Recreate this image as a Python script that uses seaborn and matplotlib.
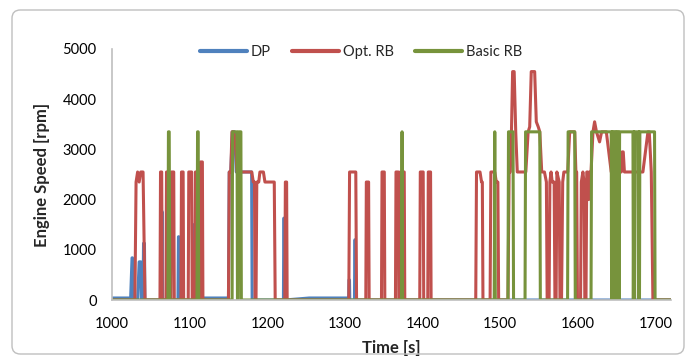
import numpy as np
import pandas as pd
import matplotlib
matplotlib.use("Agg")
import matplotlib.pyplot as plt
import seaborn as sns
from matplotlib.patches import FancyBboxPatch

# ---------------- data ----------------
# DP (blue)
dp_time = [1000, 1024, 1025.8, 1026.4, 1027.6, 1028.2, 1033, 1035, 1035.5, 1037.2, 1037.8, 1040,
           1040.6, 1041.8, 1042.4, 1063.5, 1064.1, 1064.6, 1065.1, 1085, 1085.6, 1086.2, 1086.8,
           1104, 1104.5, 1105.1, 1105.6, 1113, 1148, 1150, 1151, 1153, 1155, 1158, 1160,
           1179.8, 1180.5,
           1220.8, 1221.3, 1222.0, 1222.5, 1254, 1304, 1304.8, 1305.2, 1305.9, 1306.3,
           1312.3, 1312.8, 1313.4, 1313.9, 1320, 1720]
dp_speed = [40, 40, 840, 840, 0, 0, 0, 760, 760, 760, 0, 0,
            1130, 1130, 0, 0, 1760, 1760, 0, 0, 1260, 1260, 0,
            0, 1500, 1500, 0, 40, 40, 0, 2550, 2550, 3350, 3350, 2550,
            2550, 0,
            0, 1630, 1630, 0, 40, 40, 0, 400, 400, 0,
            0, 1200, 1200, 0, 0, 0]

# Opt. RB (red)
opt_time = [1000, 1029.5, 1031, 1033, 1035, 1037, 1040, 1042.5,
            1061.8, 1062.5, 1064.0, 1064.7,
            1069.5, 1070.2, 1071.0, 1071.7,
            1075.9, 1076.6, 1079.5, 1080.2,
            1088.8, 1089.5, 1091.6, 1092.3,
            1098.2, 1098.9, 1102.6, 1103.3,
            1106.8, 1107.5, 1111.3, 1112.0,
            1113.3, 1114.0, 1116.4, 1117.1,
            1150, 1151, 1153, 1154.5, 1157, 1159, 1161, 1180, 1182, 1183.5, 1184.3, 1185.5,
            1186.5, 1189, 1190.5, 1195, 1197, 1209, 1210.2,
            1222.6, 1223.3, 1224.9, 1225.6,
            1305, 1306, 1314, 1315,
            1326.9, 1327.6, 1330.5, 1331.2,
            1347.1, 1347.8, 1350.7, 1351.4,
            1365.1, 1365.8, 1368.7, 1369.4,
            1370.7, 1371.4, 1376.4, 1377.1,
            1396.4, 1397.1, 1400.8, 1401.5,
            1406.7, 1407.4, 1410.3, 1411.0,
            1468.5, 1469.5, 1474, 1476, 1477, 1477.8,
            1487, 1488, 1493, 1495, 1497, 1498,
            1510, 1511.5, 1513, 1514.5, 1516, 1518, 1520, 1522, 1533, 1536, 1538, 1540, 1544.4,
            1546.5, 1549, 1551, 1553.5, 1557, 1559.5, 1560.5,
            1563, 1564, 1565.5, 1567, 1569.5, 1570.5,
            1572, 1573, 1576, 1577,
            1579, 1580.5, 1582, 1587, 1589.5, 1596, 1597.5, 1598.5, 1599.5,
            1603.5, 1604.5, 1606.5, 1608, 1609,
            1610.5, 1611.5, 1613, 1614, 1615.5, 1617, 1619.5, 1621.6, 1624, 1628, 1630.6,
            1636.7, 1643, 1656, 1657, 1658.5, 1660, 1683.8, 1690.3, 1692, 1694.6, 1696.7, 1720]
opt_speed = [0, 0, 2350, 2550, 2350, 2550, 2550, 0,
             0, 2550, 2550, 0,
             0, 2550, 2550, 0,
             0, 2550, 2550, 0,
             0, 2550, 2550, 0,
             0, 2550, 2550, 0,
             0, 2550, 2550, 0,
             0, 2750, 2750, 0,
             0, 2550, 2550, 3350, 3350, 3100, 2550, 2550, 2350, 2350, 0, 0,
             2350, 2350, 2550, 2550, 2350, 2350, 0,
             0, 2350, 2350, 0,
             0, 2550, 2550, 0,
             0, 2350, 2350, 0,
             0, 2550, 2550, 0,
             0, 2550, 2550, 0,
             0, 2550, 2550, 0,
             0, 2550, 2550, 0,
             0, 2550, 2550, 0,
             0, 2550, 2550, 2350, 2350, 0,
             0, 2550, 2550, 2350, 2350, 0,
             0, 2550, 2550, 3350, 4550, 4550, 3350, 2550, 2550, 3350, 3450, 4550, 4550,
             3550, 3450, 3350, 2550, 2550, 2350, 0,
             0, 2350, 2550, 2350, 2350, 0,
             0, 2550, 2350, 0,
             0, 2350, 2550, 2550, 3350, 3350, 2550, 2550, 0,
             0, 2350, 2550, 2350, 0,
             0, 2550, 2550, 2000, 2550, 2550, 3350, 3550, 3350, 3150, 3350,
             3350, 2550, 2550, 2950, 2950, 2550, 2550, 3350, 3350, 2550, 0, 0]

# Basic RB (green)
basic_time = [1000, 1072, 1072.7, 1073.7, 1074.4,
              1109.5, 1110.2, 1111.0, 1111.7,
              1154.7, 1155.3, 1161, 1161.6, 1162.5, 1163.1, 1166, 1166.6,
              1372.9, 1373.6, 1374.3,
              1492.3, 1493.0, 1493.7,
              1510, 1510.7, 1516.5, 1517.2,
              1532, 1532.7, 1551, 1551.7,
              1586.8, 1587.5, 1596, 1596.7,
              1617, 1617.7, 1643, 1643.5, 1644.3, 1645, 1645.8, 1646.6, 1647.4, 1648.2, 1649,
              1649.8, 1650.6, 1651.4, 1652.2, 1653, 1653.8,
              1671, 1671.5, 1672.3, 1673, 1673.7,
              1677.6, 1678.1, 1678.9, 1679.4, 1679.9,
              1698.8, 1699.5, 1720]
basic_speed = [0, 0, 3350, 3350, 0,
               0, 3350, 3350, 0,
               0, 3350, 3350, 0, 0, 3350, 3350, 0,
               0, 3350, 0,
               0, 3350, 0,
               0, 3350, 3350, 0,
               0, 3350, 3350, 0,
               0, 3350, 3350, 0,
               0, 3350, 3350, 0, 3350, 0, 3350, 0, 3350, 0, 3350,
               0, 3350, 0, 3350, 0, 3350,
               3350, 0, 3350, 0, 3350,
               3350, 0, 3350, 0, 3350,
               3350, 0, 0]

x_ticks = [1000, 1100, 1200, 1300, 1400, 1500, 1600, 1700]
y_ticks = [0, 1000, 2000, 3000, 4000, 5000]

# ---------------- plot ----------------
sns.set_style("white")
plt.rcParams["font.family"] = ["Lato", "DejaVu Sans"]

fig = plt.figure(figsize=(6.94, 3.6), dpi=100)
ax = fig.add_axes([112/694, 1-300/360, (671-112)/694, (300-49)/360])

c_dp, c_opt, c_basic = "#4F81BD", "#C0504D", "#77933C"
sns.lineplot(x=dp_time, y=dp_speed, sort=False, estimator=None, ax=ax,
             color=c_dp, lw=2.2, label="DP", solid_joinstyle="round")
sns.lineplot(x=opt_time, y=opt_speed, sort=False, estimator=None, ax=ax,
             color=c_opt, lw=2.2, label="Opt. RB", solid_joinstyle="round")
sns.lineplot(x=basic_time, y=basic_speed, sort=False, estimator=None, ax=ax,
             color=c_basic, lw=2.2, label="Basic RB", solid_joinstyle="round")

ax.set_xlim(1000, 1720)
ax.set_ylim(0, 5000)
ax.set_xticks(x_ticks)
ax.set_yticks(y_ticks)
ax.tick_params(axis="both", length=0, labelsize=10.5, colors="#000000")
ax.tick_params(axis="x", pad=12)
ax.tick_params(axis="y", pad=11)
for s in ["top", "right"]:
    ax.spines[s].set_visible(False)
for s in ["left", "bottom"]:
    ax.spines[s].set_color("#BFBFBF")
    ax.spines[s].set_linewidth(1.2)

ax.set_xlabel("Time [s]", fontsize=12, fontweight="bold", labelpad=7)
ax.set_ylabel("Engine Speed [rpm]", fontsize=12, fontweight="bold", labelpad=9)

leg = ax.legend(loc="center", bbox_to_anchor=(361/694, 1-52/360), bbox_transform=fig.transFigure,
                ncol=3, frameon=False, fontsize=10.5, handlelength=3.2, columnspacing=1.5,
                handletextpad=0.25)
for h in leg.legend_handles:
    h.set_linewidth(3)

border = FancyBboxPatch((12/694, 6/360), (684-12)/694, (350-6)/360,
                        boxstyle="round,pad=0,rounding_size=0.012", transform=fig.transFigure,
                        facecolor="none", edgecolor="#BFBFBF", lw=1.0, mutation_aspect=694/360)
fig.patches.append(border)

fig.savefig("out.png", dpi=100)
